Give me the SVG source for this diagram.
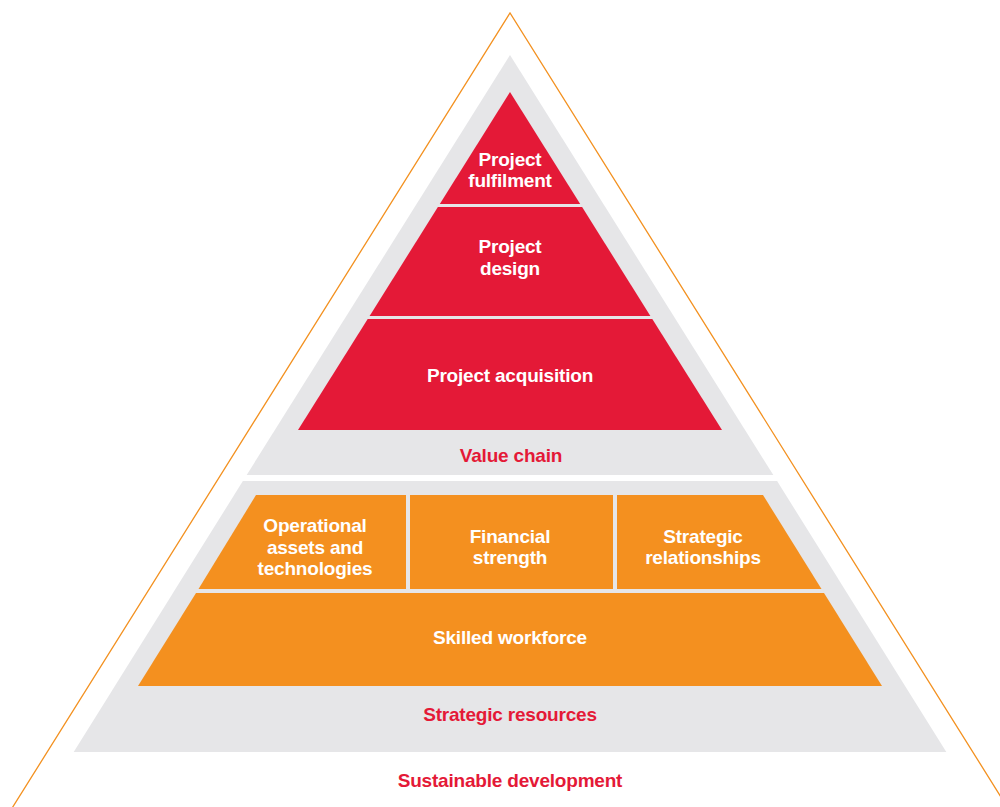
<svg xmlns="http://www.w3.org/2000/svg" width="1000" height="807" viewBox="0 0 1000 807">
  <style>
    .outline { fill: none; stroke: #F39120; stroke-width: 1.3; }
    .band { fill: #E6E6E8; }
    .red { fill: #E41937; }
    .orange { fill: #F4901F; }
    .lbl { font-family: "Liberation Sans", Arial, sans-serif; font-weight: bold; font-size: 19px; text-anchor: middle; fill: #FFFFFF; letter-spacing: -0.2px; }
    .cap { fill: #E41937; }
  </style>

  <!-- outer outline -->
  <g id="outline">
    <polyline class="outline" points="9,813 510,13 1011,813"/>
  </g>

  <!-- grey backing bands -->
  <g id="value-chain">
    <polygon class="band" points="510,55 773.3,475 246.7,475"/>
    <text class="lbl cap" x="511" y="462">Value chain</text>
  </g>
  <g id="strategic-resources">
    <polygon class="band" points="242.9,481 777.1,481 946.3,752 73.7,752"/>
    <text class="lbl cap" x="510" y="721">Strategic resources</text>
  </g>

  <!-- value chain tiers -->
  <g id="project-fulfilment">
    <polygon class="red" points="510,92 580.2,204 439.8,204"/>
    <text class="lbl" x="510" y="166">Project</text>
    <text class="lbl" x="510" y="187">fulfilment</text>
  </g>
  <g id="project-design">
    <polygon class="red" points="437.9,207 582.1,207 650.4,316 369.6,316"/>
    <text class="lbl" x="510" y="253">Project</text>
    <text class="lbl" x="510" y="275">design</text>
  </g>
  <g id="project-acquisition">
    <polygon class="red" points="367.7,319 652.3,319 722,430 298,430"/>
    <text class="lbl" x="510" y="382">Project acquisition</text>
  </g>

  <!-- strategic resource tiers -->
  <g id="operational-assets">
    <polygon class="orange" points="256,495 406,495 406,589 198.5,589"/>
    <text class="lbl" x="315" y="532">Operational</text>
    <text class="lbl" x="315" y="554">assets and</text>
    <text class="lbl" x="315" y="575">technologies</text>
  </g>
  <g id="financial-strength">
    <rect class="orange" x="410" y="495" width="203" height="94"/>
    <text class="lbl" x="510" y="543">Financial</text>
    <text class="lbl" x="510" y="564">strength</text>
  </g>
  <g id="strategic-relationships">
    <polygon class="orange" points="617,495 763,495 821.5,589 617,589"/>
    <text class="lbl" x="703" y="543">Strategic</text>
    <text class="lbl" x="703" y="564">relationships</text>
  </g>
  <g id="skilled-workforce">
    <polygon class="orange" points="196,593 824,593 882,686 138,686"/>
    <text class="lbl" x="510" y="644">Skilled workforce</text>
  </g>

  <g id="sustainable-development">
    <text class="lbl cap" x="510" y="787">Sustainable development</text>
  </g>

  <!-- no connectors in this figure -->
  <g id="connectors"/>
</svg>
